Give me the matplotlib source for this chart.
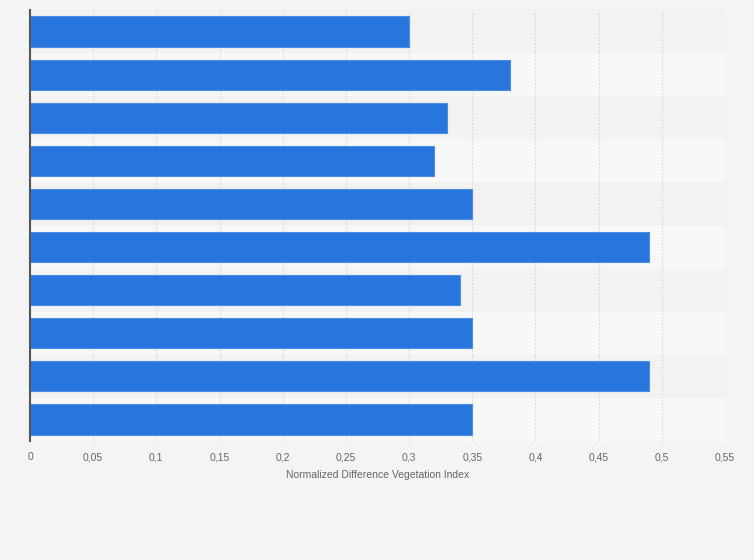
import numpy as np
import matplotlib
matplotlib.use("Agg")
import matplotlib.pyplot as plt

plt.rcParams['font.family'] = ['Liberation Sans Narrow', 'Liberation Sans', 'DejaVu Sans']

# values read top to bottom
values = [0.30, 0.38, 0.33, 0.32, 0.35, 0.49, 0.34, 0.35, 0.49, 0.35]
xticks = [0, 0.05, 0.1, 0.15, 0.2, 0.25, 0.3, 0.35, 0.4, 0.45, 0.5, 0.55]
xticklabels = ['0', '0,05', '0,1', '0,15', '0,2', '0,25', '0,3', '0,35', '0,4', '0,45', '0,5', '0,55']
xlabel = 'Normalized Difference Vegetation Index'

fig = plt.figure(figsize=(7.54, 5.6), dpi=100)
fig.patch.set_facecolor('#f4f4f4')
ax = fig.add_axes([30/754, 1-441/560, 695/754, 431/560])
ax.set_facecolor('#f4f4f4')

n = len(values)
y = np.arange(n)
# alternating row stripes
for i in range(n):
    ax.axhspan(i - 0.5, i + 0.5, color='#f2f2f2' if i % 2 == 0 else '#f8f8f8', zorder=0, lw=0)

ax.barh(y, values, height=0.7, color='#2876dd', edgecolor='#4a8ee6', linewidth=0.8, zorder=3)

ax.set_ylim(n - 0.5, -0.5)
ax.set_xlim(0, 0.55)
ax.set_xticks(xticks)
ax.set_xticklabels(xticklabels, fontsize=7.5, color='#666666')
ax.set_yticks([])
ax.tick_params(axis='x', length=0, pad=8)
ax.grid(axis='x', color='#d8d8d8', linestyle=(0, (1.5, 1.5)), linewidth=0.8, zorder=1)
ax.set_xlabel(xlabel, fontsize=7.5, color='#666666', labelpad=6)

for s in ['top', 'right', 'bottom']:
    ax.spines[s].set_visible(False)
ax.spines['left'].set_color('#555555')
ax.spines['left'].set_linewidth(1.5)
ax.spines['left'].set_zorder(4)

fig.savefig('out.png', dpi=100, facecolor=fig.get_facecolor())
